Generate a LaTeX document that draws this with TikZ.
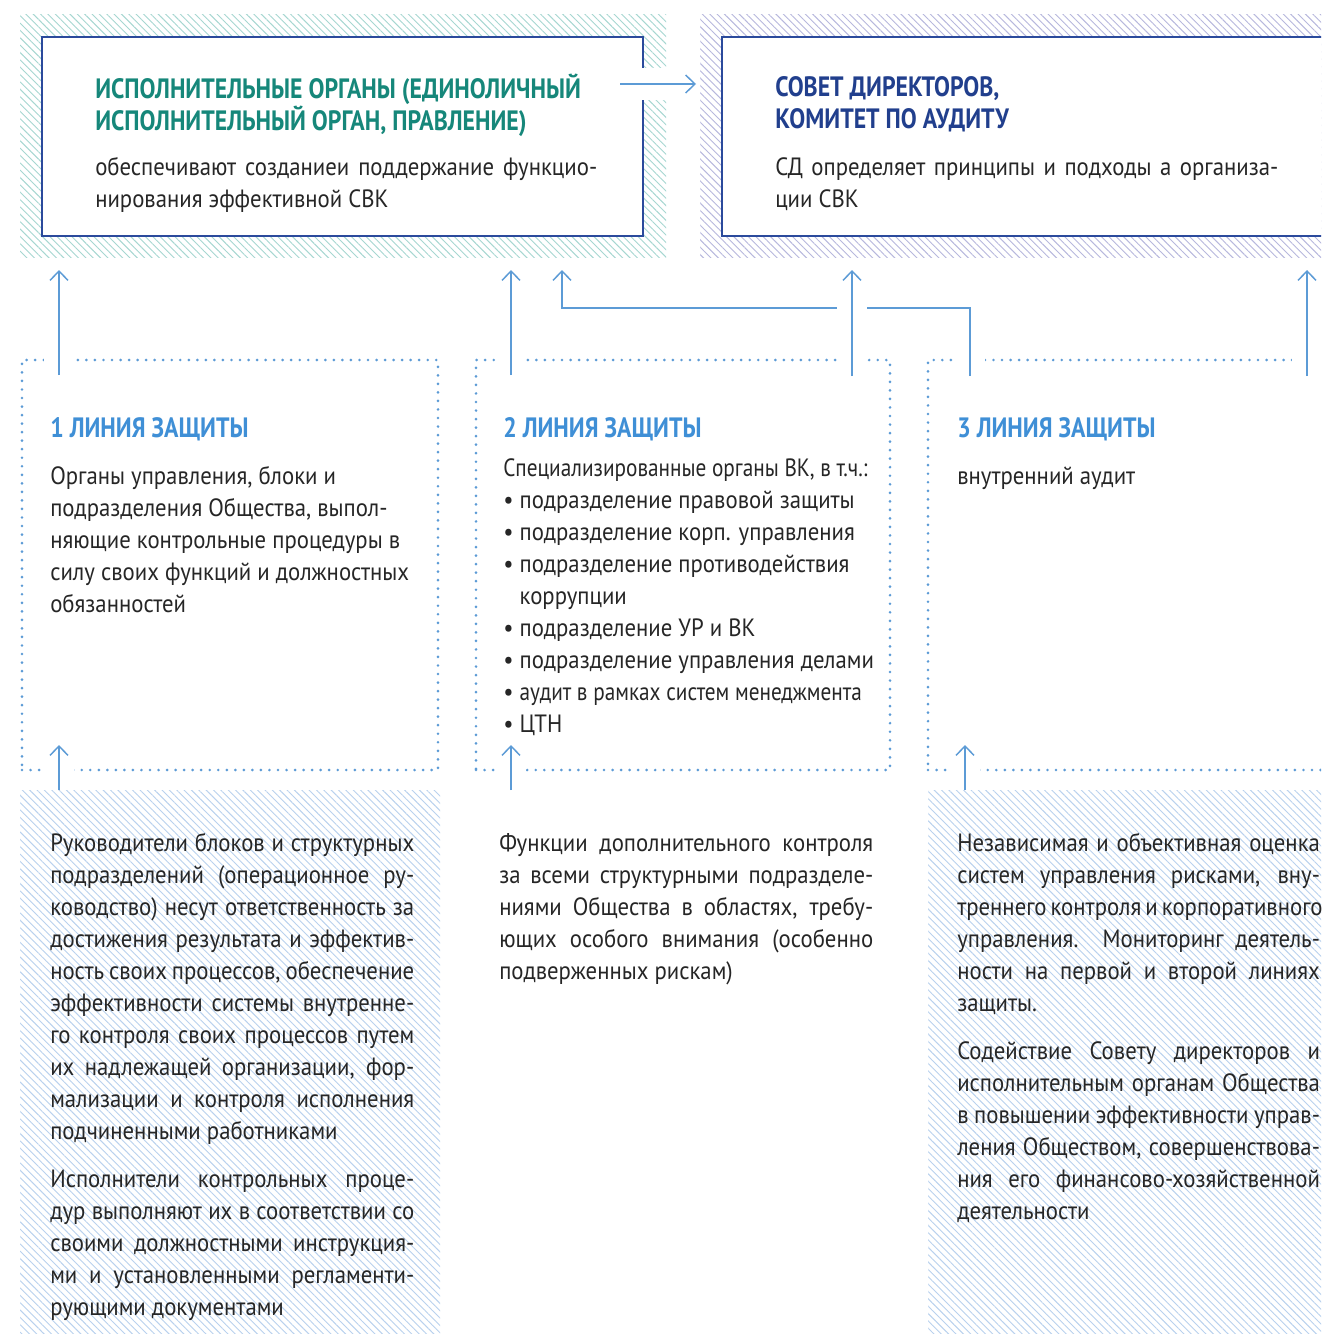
\documentclass[tikz,border=0pt]{standalone}
\usepackage{fontspec}
\setmainfont{PT Sans}[FakeStretch=0.91]
\newfontfamily\hdfont{PT Sans}[FakeStretch=0.85]
\newfontfamily\narrowfont{PT Sans}[FakeStretch=0.85]
\usetikzlibrary{patterns.meta,arrows.meta,fit}
\definecolor{txt}{HTML}{262626}
\definecolor{tealhd}{HTML}{16877A}
\definecolor{navyhd}{HTML}{213F8D}
\definecolor{lbluehd}{HTML}{3F8FD6}
\definecolor{arrblue}{HTML}{5C9BD6}
\definecolor{bordercol}{HTML}{2B4A9C}
\definecolor{hteal}{HTML}{A6D7D1}
\definecolor{hlav}{HTML}{B7B8DD}
\definecolor{hblue}{HTML}{B9D1EE}
\newcommand{\jl}[2]{\makebox[#1][s]{#2}\\}
\newcommand{\ft}{\rule{0pt}{17pt}}
\tikzset{
  hatch/.style={pattern={Lines[angle=-45,distance=3.9pt,line width=0.7pt]},pattern color=#1},
  mainbox/.style={draw=bordercol,line width=2.2pt,fill=white,inner sep=0pt},
  dotframe/.style={draw=arrblue,line width=2.2pt,line cap=round,dash pattern=on 0pt off 6.4pt,inner sep=0pt},
  conn/.style={draw=arrblue,line width=1.1pt,-{Straight Barb[length=7pt,width=13.5pt]}},
  halo/.style={preaction={draw=white,line width=22pt,arrows=-}},
  txtnode/.style={anchor=north west,inner sep=0pt,align=left,text=txt,font=\fontsize{18.75}{24}\selectfont},
  hdnode/.style={anchor=north west,inner sep=0pt,align=left,font=\hdfont\bfseries\fontsize{21}{24}\selectfont},
}
\begin{document}
\begin{tikzpicture}[x=0.75pt,y=-0.75pt]
\clip (0,0) rectangle (1321,1334);
\fill[white] (0,0) rectangle (1321,1334);
% hatched backgrounds
\fill[hatch=hteal] (20,15) rectangle (666,257);
\fill[hatch=hlav] (700,15) rectangle (1340,257);
\fill[hatch=hblue] (20,790) rectangle (440,1340);
\fill[hatch=hblue] (928,790) rectangle (1340,1340);
% main boxes
\node[mainbox, fit={(42,37)(643,236)}] (exec) {};
\node[mainbox, fit={(722,37)(1360,236)}] (board) {};
\fill[white] (638,68) rectangle (669,100);
% dotted frames
\node[dotframe, fit={(22,360)(438,770)}] (l1) {};
\node[dotframe, fit={(476,360)(890,770)}] (l2) {};
\node[dotframe, fit={(928,360)(1400,770)}] (l3) {};
% texts
\node[hdnode, text=tealhd] (exech) at (95,73.3) {\ft ИСПОЛНИТЕЛЬНЫЕ ОРГАНЫ (ЕДИНОЛИЧНЫЙ\\ИСПОЛНИТЕЛЬНЫЙ ОРГАН, ПРАВЛЕНИЕ)};
\node[txtnode] (exect) at (95,152.3) {\ft\jl{376.5pt}{обеспечивают созданиеи поддержание функцио-}нирования эффективной СВК};
\node[hdnode, text=navyhd] (boardh) at (775,73.3) {\ft СОВЕТ ДИРЕКТОРОВ,\\КОМИТЕТ ПО АУДИТУ};
\node[txtnode] (boardt) at (775,152.3) {\ft\jl{377.25pt}{СД определяет принципы и подходы а организа-}ции СВК};
\node[hdnode, text=lbluehd] (h1) at (50,414.3) {\ft 1 ЛИНИЯ ЗАЩИТЫ};
\node[hdnode, text=lbluehd] (h2) at (503,414.3) {\ft 2 ЛИНИЯ ЗАЩИТЫ};
\node[hdnode, text=lbluehd] (h3) at (957,414.3) {\ft 3 ЛИНИЯ ЗАЩИТЫ};
\node[txtnode] (t1) at (50,461.3) {\ft Органы управления, блоки и\\подразделения Общества, выпол-\\няющие контрольные процедуры в\\силу своих функций и должностных\\обязанностей};
\node[txtnode] (t2) at (503,453.3) {\ft{\narrowfont Специализированные органы ВК, в т.ч.:}\\
• подразделение правовой защиты\\
• подразделение корп. управления\\
• подразделение противодействия\\
\phantom{• }коррупции\\
• подразделение УР и ВК\\
• подразделение управления делами\\
• {\narrowfont аудит в рамках систем менеджмента}\\
• ЦТН};
\node[txtnode] (t3) at (957,461.3) {\ft внутренний аудит};
\node[txtnode] (b1) at (50,828.3) {\ft\jl{273pt}{Руководители блоков и структурных}
\jl{273pt}{подразделений (операционное ру-}
\jl{273pt}{ководство) несут ответственность за}
\jl{273pt}{достижения результата и эффектив-}
\jl{273pt}{ность своих процессов, обеспечение}
\jl{273pt}{эффективности системы внутренне-}
\jl{273pt}{го контроля своих процессов путем}
\jl{273pt}{их надлежащей организации, фор-}
\jl{273pt}{мализации и контроля исполнения}
подчиненными работниками\\[12pt]
\jl{273pt}{Исполнители контрольных проце-}
\jl{273pt}{дур выполняют их в соответствии со}
\jl{273pt}{своими должностными инструкция-}
\jl{273pt}{ми и установленными регламенти-}
рующими документами};
\node[txtnode] (b2) at (499,828.3) {\ft\jl{280.5pt}{Функции дополнительного контроля}
\jl{280.5pt}{за всеми структурными подразделе-}
\jl{280.5pt}{ниями Общества в областях, требу-}
\jl{280.5pt}{ющих особого внимания (особенно}
подверженных рискам)};
\node[txtnode] (b3) at (957,828.3) {\ft\jl{272pt}{Независимая и объективная оценка}
\jl{272pt}{систем управления рисками, вну-}
\jl{272pt}{треннего контроля и корпоративного}
\jl{272pt}{управления. Мониторинг деятель-}
\jl{272pt}{ности на первой и второй линиях}
защиты.\\[12pt]
\jl{272pt}{Содействие Совету директоров и}
\jl{272pt}{исполнительным органам Общества}
\jl{272pt}{в повышении эффективности управ-}
\jl{272pt}{ления Обществом, совершенствова-}
\jl{272pt}{ния его финансово-хозяйственной}
деятельности};
% connector coordinates
\coordinate (e1) at (620,84);
\coordinate (e2) at (696,84);
\coordinate (u1s) at (59,375);  \coordinate (u1e) at (59,270);
\coordinate (u2s) at (511,375); \coordinate (u2e) at (511,270);
\coordinate (u3s) at (852,376); \coordinate (u3e) at (852,270);
\coordinate (u4s) at (1307,376); \coordinate (u4e) at (1307,270);
\coordinate (c1) at (970,376); \coordinate (c2) at (970,308);
\coordinate (c3) at (562,308); \coordinate (c4) at (562,270);
\coordinate (d1s) at (59,790);  \coordinate (d1e) at (59,745);
\coordinate (d2s) at (511,790); \coordinate (d2e) at (511,745);
\coordinate (d3s) at (965,790); \coordinate (d3e) at (965,745);
% connectors
\draw[conn] (e1) -- (e2);
\draw[conn, halo] (c1) -- (c2) -- (c3) -- (c4);
\draw[conn, halo] (u1s) -- (u1e);
\draw[conn, halo] (u2s) -- (u2e);
\draw[conn, halo] (u3s) -- (u3e);
\draw[conn, halo] (u4s) -- (u4e);
\draw[conn, halo] (d1s) -- (d1e);
\draw[conn, halo] (d2s) -- (d2e);
\draw[conn, halo] (d3s) -- (d3e);
\end{tikzpicture}
\end{document}
